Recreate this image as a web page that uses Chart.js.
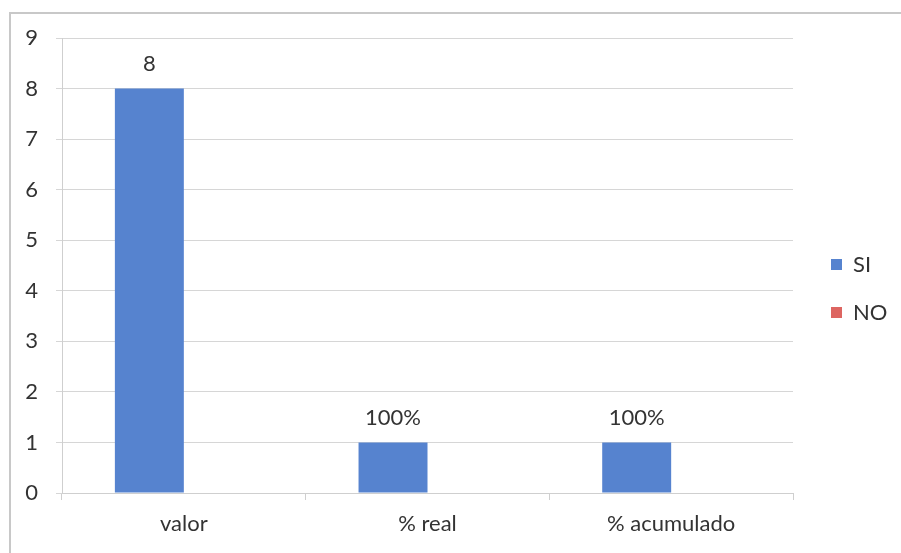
<!DOCTYPE html>
<html lang="es">
<head>
    <meta charset="UTF-8">
    <title>SI / NO</title>
    <script src="https://cdn.jsdelivr.net/npm/chart.js"></script>
    <style>
        body {
            margin: 0;
            background: #ffffff;
        }
        .frame {
            position: absolute;
            left: 9px;
            top: 12px;
            width: 900px;
            height: 560px;
            border-left: 2px solid #c8c8c8;
            border-top: 2px solid #c8c8c8;
        }
        #chart {
            position: absolute;
            left: 0;
            top: 0;
        }
    </style>
</head>
<body>
    <div class="frame"></div>
    <canvas id="chart" width="901" height="553"></canvas>
    <script>
        // datos
        const categorias = ['valor', '% real', '% acumulado'];
        const valoresSI = [8, 1, 1];
        const valoresNO = [0, 0, 0];
        const etiquetasSI = ['8', '100%', '100%'];
        const ticksY = [0, 1, 2, 3, 4, 5, 6, 7, 8, 9];

        const azul = '#5683cf';
        const rojo = '#dd6561';
        const texto = '#333333';
        const fuente = { family: 'Lato', size: 22 };

        // etiquetas encima de las barras de SI
        const etiquetasPlugin = {
            id: 'etiquetas',
            afterDatasetsDraw(chart) {
                const ctx = chart.ctx;
                const meta = chart.getDatasetMeta(0);
                ctx.save();
                ctx.font = '22px Lato';
                ctx.fillStyle = texto;
                ctx.textAlign = 'center';
                ctx.textBaseline = 'middle';
                meta.data.forEach((bar, i) => {
                    ctx.fillText(etiquetasSI[i], bar.x, bar.y - 25);
                });
                ctx.restore();
            }
        };

        // ancho fijo de la leyenda y pequeno ajuste de su posicion
        const leyendaPlugin = {
            id: 'leyendaFija',
            afterInit(chart) {
                const legend = chart.legend;
                const fitOrig = legend.fit.bind(legend);
                legend.fit = function () {
                    fitOrig();
                    this.width = 108;
                };
            },
            afterLayout(chart) {
                const l = chart.legend;
                l.left += 12;
                l.right += 12;
                l.top -= 7;
                l.bottom -= 7;
            }
        };

        new Chart(document.getElementById('chart'), {
            type: 'bar',
            data: {
                labels: categorias,
                datasets: [
                    { label: 'SI', data: valoresSI, backgroundColor: azul },
                    { label: 'NO', data: valoresNO, backgroundColor: rojo }
                ]
            },
            options: {
                responsive: false,
                animation: false,
                categoryPercentage: 0.566,
                barPercentage: 1.0,
                layout: { padding: { top: 38, left: 0, right: 0, bottom: 0 } },
                plugins: {
                    tooltip: { enabled: false },
                    legend: {
                        position: 'right',
                        labels: {
                            boxWidth: 11,
                            boxHeight: 11,
                            padding: 26,
                            color: texto,
                            font: fuente
                        }
                    }
                },
                scales: {
                    x: {
                        offset: true,
                        grid: {
                            offset: true,
                            drawOnChartArea: false,
                            drawTicks: true,
                            tickLength: 7,
                            color: '#cfcfcf'
                        },
                        border: { color: '#cfcfcf' },
                        ticks: { color: texto, font: fuente, padding: 11 },
                        afterFit(scale) { scale.height = 60; }
                    },
                    y: {
                        min: 0,
                        max: 9,
                        afterBuildTicks(scale) {
                            scale.ticks = ticksY.map(v => ({ value: v }));
                        },
                        grid: {
                            color: '#d6d6d6',
                            tickLength: 6
                        },
                        border: { color: '#cfcfcf' },
                        ticks: { color: texto, font: fuente, padding: 18 },
                        afterFit(scale) { scale.width = 62; }
                    }
                }
            },
            plugins: [etiquetasPlugin, leyendaPlugin]
        });
    </script>
</body>
</html>
